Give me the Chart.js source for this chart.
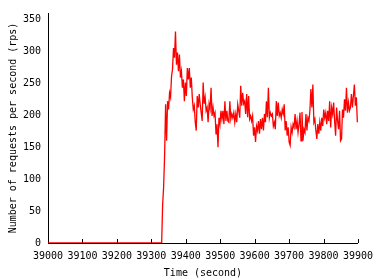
<!DOCTYPE html>
<html lang="en">
<head>
<meta charset="UTF-8">
<title>Requests per second</title>
<script src="https://cdn.jsdelivr.net/npm/chart.js"></script>
<style>
  html, body { margin: 0; padding: 0; background: #fff; }
  #wrap { width: 380px; height: 280px; }
</style>
</head>
<body>
<div id="wrap"><canvas id="chart" width="380" height="280"></canvas></div>
<script>
  // axis ticks
  const xTicks = [39000, 39100, 39200, 39300, 39400, 39500, 39600, 39700, 39800, 39900];
  const yTicks = [0, 50, 100, 150, 200, 250, 300, 350];

  // before the run the rate sits at 0
  const idleTimes = [39000, 39330];
  const idleRps = [0, 0];

  const runStart = 39330;
  const sampleStep = 2.87;
  const rps = [
    0, 60, 88, 137, 217, 160, 222, 209, 235, 228,
    261, 272, 305, 290, 331, 279, 298, 269, 295, 259,
    269, 243, 256, 222, 251, 230, 274, 256, 274, 243,
    259, 228, 209, 215, 189, 176, 230, 212, 233, 217,
    204, 191, 251, 218, 228, 207, 212, 189, 218, 210,
    243, 199, 212, 199, 204, 171, 186, 150, 196, 186,
    207, 194, 207, 186, 222, 191, 207, 191, 189, 222,
    194, 202, 196, 204, 189, 202, 189, 217, 207, 196,
    246, 215, 235, 218, 222, 202, 233, 197, 230, 194,
    199, 191, 199, 168, 181, 158, 183, 176, 191, 171,
    194, 178, 196, 176, 202, 189, 222, 197, 243, 196,
    204, 199, 202, 183, 189, 178, 222, 199, 220, 199,
    204, 196, 209, 202, 217, 176, 191, 168, 181, 158,
    153, 181, 173, 186, 181, 202, 178, 191, 173, 186,
    204, 160, 205, 160, 178, 173, 202, 176, 196, 191,
    207, 241, 212, 248, 189, 194, 176, 163, 186, 171,
    189, 176, 196, 183, 209, 196, 204, 186, 207, 191,
    222, 181, 212, 202, 220, 191, 168, 212, 191, 178,
    207, 160, 163, 209, 196, 225, 207, 243, 204, 220,
    207, 212, 233, 212, 230, 248, 215, 228, 189
  ];

  const points = idleTimes.map((t, i) => ({ x: t, y: idleRps[i] }))
    .concat(rps.map((v, i) => ({ x: runStart + i * sampleStep, y: v })));

  const FONT = { family: '"DejaVu Sans Mono", monospace', size: 10 };

  // gnuplot style: tick marks point into the plot
  const innerTicks = {
    id: 'innerTicks',
    beforeDatasetsDraw(chart) {
      const ctx = chart.ctx;
      const x = chart.scales.x;
      ctx.save();
      ctx.strokeStyle = '#000';
      ctx.lineWidth = 1;
      ctx.beginPath();
      xTicks.forEach(t => {
        const px = Math.round(x.getPixelForValue(t)) + 0.5;
        ctx.moveTo(px, x.top);
        ctx.lineTo(px, x.top - 4);
      });
      ctx.stroke();
      ctx.restore();
    }
  };

  new Chart(document.getElementById('chart'), {
    type: 'line',
    data: {
      datasets: [{
        data: points,
        borderColor: '#ff0000',
        borderWidth: 1.3,
        pointRadius: 0,
        tension: 0,
        fill: false
      }]
    },
    options: {
      responsive: false,
      animation: false,
      events: [],
      layout: { padding: { top: 12, right: 18, left: 0, bottom: 0 } },
      plugins: { legend: { display: false }, tooltip: { enabled: false } },
      scales: {
        x: {
          type: 'linear',
          min: 39000,
          max: 39900,
          afterBuildTicks: s => { s.ticks = xTicks.map(v => ({ value: v })); },
          afterFit: s => { s.height = 37; },
          grid: { display: false, drawTicks: false },
          border: { display: true, color: '#000', width: 1 },
          ticks: { color: '#000', font: FONT, padding: 7, maxRotation: 0, autoSkip: false,
                   callback: v => String(v) },
          title: { display: true, text: 'Time (second)', color: '#000', font: FONT,
                   padding: { top: 0, bottom: 1 } }
        },
        y: {
          min: 0,
          max: 360,
          afterBuildTicks: s => { s.ticks = yTicks.map(v => ({ value: v })); },
          afterFit: s => { s.width = 48; },
          grid: { display: false, drawTicks: false },
          border: { display: true, color: '#000', width: 1 },
          ticks: { color: '#000', font: FONT, padding: 7, callback: v => String(v) },
          title: { display: true, text: 'Number of requests per second (rps)', color: '#000',
                   font: FONT, padding: { top: 7, bottom: 0 } }
        }
      }
    },
    plugins: [innerTicks]
  });
</script>
</body>
</html>
